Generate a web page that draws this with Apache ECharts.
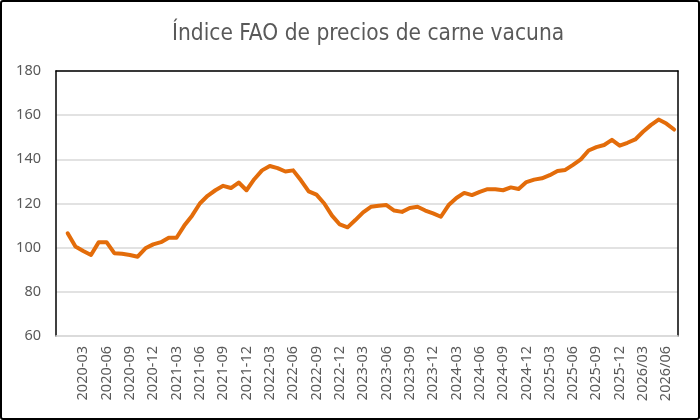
<!DOCTYPE html>
<html>
<head>
<meta charset="utf-8">
<script src="https://cdn.jsdelivr.net/npm/echarts@6/dist/echarts.min.js"></script>
<style>
    body { margin: 0; background: #fff; }
    #wrap { position: relative; width: 700px; height: 420px; }
    #chart { width: 700px; height: 420px; }
    #frame { position: absolute; left: 0; top: 0; width: 700px; height: 420px; box-sizing: border-box;
             border: 2px solid #000; border-radius: 3px; pointer-events: none; }
</style>
</head>
<body>
<div id="wrap">
    <div id="chart"></div>
    <div id="frame"></div>
</div>
<script>
// meses (el primero va vacío, como en la hoja original)
var months = [
    '2019-12',
    '2020-01','2020-02','2020-03','2020-04','2020-05','2020-06','2020-07','2020-08','2020-09','2020-10','2020-11','2020-12',
    '2021-01','2021-02','2021-03','2021-04','2021-05','2021-06','2021-07','2021-08','2021-09','2021-10','2021-11','2021-12',
    '2022-01','2022-02','2022-03','2022-04','2022-05','2022-06','2022-07','2022-08','2022-09','2022-10','2022-11','2022-12',
    '2023-01','2023-02','2023-03','2023-04','2023-05','2023-06','2023-07','2023-08','2023-09','2023-10','2023-11','2023-12',
    '2024-01','2024-02','2024-03','2024-04','2024-05','2024-06','2024-07','2024-08','2024-09','2024-10','2024-11','2024-12',
    '2025-01','2025-02','2025-03','2025-04','2025-05','2025-06','2025-07','2025-08','2025-09','2025-10','2025-11','2025-12',
    '2026/01','2026/02','2026/03','2026/04','2026/05','2026/06','2026/07'
];
// etiquetas visibles del eje x
var shownLabels = [
    '2020-03','2020-06','2020-09','2020-12','2021-03','2021-06','2021-09','2021-12',
    '2022-03','2022-06','2022-09','2022-12','2023-03','2023-06','2023-09','2023-12',
    '2024-03','2024-06','2024-09','2024-12','2025-03','2025-06','2025-09','2025-12',
    '2026/03','2026/06'
];
// índice FAO carne vacuna
var beefIndex = [
    null,
    106.5, 100.5, 98.5, 96.7, 102.5, 102.5, 97.5, 97.2, 96.7, 95.9, 99.7, 101.5,
    102.5, 104.5, 104.5, 110, 114.5, 120, 123.5, 126, 128, 127, 129.5, 126,
    131, 135, 137, 136, 134.5, 135, 130.5, 125.5, 124, 120, 114.5, 110.5,
    109.2, 112.5, 116, 118.5, 119, 119.3, 116.8, 116.2, 118, 118.5, 116.8, 115.5,
    114, 119.3, 122.5, 124.8, 123.8, 125.3, 126.5, 126.5, 126, 127.3, 126.6, 129.7,
    130.8, 131.4, 132.8, 134.7, 135.2, 137.5, 140, 144, 145.5, 146.5, 148.8, 146.2,
    147.5, 149, 152.5, 155.5, 158, 156.2, 153.5
];
var yTicks = { min: 60, max: 180, step: 20 };

var chart = echarts.init(document.getElementById('chart'));
var labelFont = "'Noto Sans', 'Liberation Sans', sans-serif";

option = {
    animation: false,
    title: {
        text: 'Índice FAO de precios de carne vacuna',
        left: 167,
        top: 18,
        textStyle: {
            fontFamily: "'Liberation Sans Narrow', 'Arial Narrow', 'DejaVu Sans Condensed', sans-serif",
            fontSize: 22.5,
            fontWeight: 'normal',
            color: '#595959'
        }
    },
    grid: { left: 56, right: 22, top: 71, bottom: 84 },
    xAxis: [
        {
            type: 'category',
            data: months,
            boundaryGap: true,
            axisLine: { lineStyle: { color: '#d9d9d9', width: 1.5 } },
            axisTick: { interval: 0, length: 4, lineStyle: { color: '#d9d9d9' } },
            axisLabel: {
                rotate: 90,
                margin: 10,
                interval: function (index, value) {
                    return shownLabels.indexOf(value) >= 0;
                },
                color: '#595959',
                fontFamily: labelFont,
                fontSize: 14.5
            }
        },
        {
            // borde superior del área
            type: 'category',
            data: months,
            position: 'top',
            axisLine: { lineStyle: { color: '#000', width: 1.5 } },
            axisTick: { show: false },
            axisLabel: { show: false }
        }
    ],
    yAxis: [
        {
            type: 'value',
            min: yTicks.min,
            max: yTicks.max,
            interval: yTicks.step,
            axisLine: { show: true, lineStyle: { color: '#000', width: 1.5 } },
            axisTick: { show: false },
            axisLabel: {
                margin: 15,
                color: '#595959',
                fontFamily: labelFont,
                fontSize: 14.5
            },
            splitLine: { lineStyle: { color: '#d9d9d9', width: 1.5 } }
        },
        {
            // borde derecho del área
            type: 'value',
            position: 'right',
            min: yTicks.min,
            max: yTicks.max,
            axisLine: { show: true, lineStyle: { color: '#000', width: 1.5 } },
            axisTick: { show: false },
            axisLabel: { show: false },
            splitLine: { show: false }
        }
    ],
    series: [
        {
            name: 'Índice FAO carne vacuna',
            type: 'line',
            data: beefIndex,
            symbol: 'none',
            smooth: false,
            lineStyle: { color: '#E36C0A', width: 4, join: 'round', cap: 'round' }
        }
    ]
};
chart.setOption(option);
</script>
</body>
</html>
